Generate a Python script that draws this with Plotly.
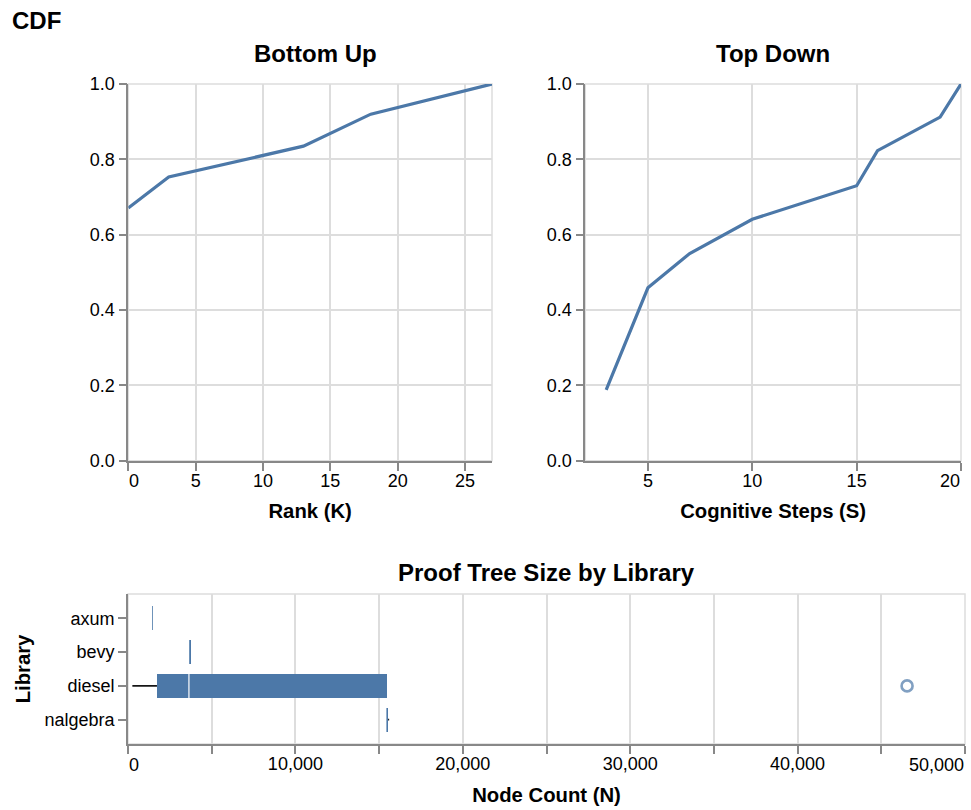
import plotly.graph_objects as go

W, H = 971, 810

# ---- data ----
rank_k = [0, 3, 13, 18, 27]
cdf_bottom_up = [0.671, 0.753, 0.835, 0.920, 1.0]

steps_s = [3, 5, 7, 10, 15, 16, 19, 20]
cdf_top_down = [0.188, 0.459, 0.550, 0.641, 0.730, 0.823, 0.912, 1.0]

libraries = ["axum", "bevy", "diesel", "nalgebra"]
lower_fence = [1385, 3600, 260, 15400]
q1 = [1385, 3620, 1730, 15400]
median = [1410, 3620, 3640, 15400]
q3 = [1445, 3760, 15470, 15540]
upper_fence = [1445, 3760, 15470, 15600]
outlier_lib = ["diesel"]
outlier_val = [46540]

x_ticks_rank = [5, 10, 15, 20, 25]
x_ticks_steps = [5, 10, 15]
x_ticks_nodes = [10000, 20000, 30000, 40000]

BLUE = "#4c78a8"
FONT = "Liberation Sans, Arial, Helvetica, sans-serif"


def xd(a, b):
    return [a / W, b / W]


def yd(top, bottom):
    return [1 - bottom / H, 1 - top / H]


fig = go.Figure()

fig.add_trace(go.Scatter(x=rank_k, y=cdf_bottom_up, mode="lines",
                         line=dict(color=BLUE, width=3.2),
                         xaxis="x", yaxis="y", showlegend=False))
fig.add_trace(go.Scatter(x=steps_s, y=cdf_top_down, mode="lines",
                         line=dict(color=BLUE, width=3.2),
                         xaxis="x2", yaxis="y2", showlegend=False))

# whiskers
wx, wy = [], []
for lib, lf, a, b, uf in zip(libraries, lower_fence, q1, q3, upper_fence):
    wx += [lf, a, None, b, uf, None]
    wy += [lib, lib, None, lib, lib, None]
fig.add_trace(go.Scatter(x=wx, y=wy, mode="lines",
                         line=dict(color="black", width=1.6),
                         xaxis="x3", yaxis="y3", showlegend=False))
# boxes
fig.add_trace(go.Bar(y=libraries, x=[b - a for a, b in zip(q1, q3)], base=q1,
                     orientation="h", width=0.71,
                     marker=dict(color=BLUE, line=dict(width=0)),
                     xaxis="x3", yaxis="y3", showlegend=False))
# medians
fig.add_trace(go.Scatter(x=median, y=libraries, mode="markers",
                         marker=dict(symbol="line-ns", size=27, color="white",
                                     line=dict(color="white", width=1.2)),
                         xaxis="x3", yaxis="y3", showlegend=False))
# outliers
fig.add_trace(go.Scatter(x=outlier_val, y=outlier_lib, mode="markers",
                         marker=dict(symbol="circle-open", size=11,
                                     color="rgba(76,120,168,0.7)",
                                     line=dict(color="rgba(76,120,168,0.7)", width=2.6)),
                         xaxis="x3", yaxis="y3", showlegend=False))

tick_font = dict(family=FONT, size=18, color="black")
title_font = dict(family=FONT, size=20.3, color="black")

common = dict(showgrid=True, gridcolor="#dddddd", gridwidth=1.5,
              showline=True, linecolor="#888888", linewidth=1.6,
              ticks="outside", ticklen=8, tickwidth=1.6, tickcolor="#888888",
              tickfont=tick_font, zeroline=False, fixedrange=True,
              automargin=False)

minor_common = dict(ticks="outside", ticklen=8, tickwidth=1.6, tickcolor="#888888",
                    showgrid=True, gridcolor="#dddddd", gridwidth=1.5, tick0=0)

fig.update_layout(
    width=W, height=H,
    margin=dict(l=0, r=0, t=0, b=0, pad=0),
    paper_bgcolor="white", plot_bgcolor="white",
    font=dict(family=FONT),
    bargap=0,
    xaxis=dict(domain=xd(128.3, 492), range=[0, 27], tickvals=x_ticks_rank,
               anchor="y", ticklabelstandoff=-5,
               minor=dict(dtick=5, **minor_common),
               title=dict(text="<b>Rank (K)</b>", font=title_font, standoff=14),
               **common),
    yaxis=dict(domain=yd(84, 460.7), range=[0, 1], dtick=0.2, tickformat=".1f",
               anchor="x", **common),
    xaxis2=dict(domain=xd(585.3, 961), range=[2, 20], tickvals=x_ticks_steps,
                anchor="y2", ticklabelstandoff=-5,
                minor=dict(dtick=5, **minor_common),
                title=dict(text="<b>Cognitive Steps (S)</b>", font=title_font, standoff=14),
                **common),
    yaxis2=dict(domain=yd(84, 460.7), range=[0, 1], dtick=0.2, tickformat=".1f",
                anchor="x2", **common),
    xaxis3=dict(domain=xd(128, 965), range=[0, 50000], tickvals=x_ticks_nodes,
                tickformat=",d", anchor="y3", ticklabelstandoff=-5,
                minor=dict(dtick=5000, **minor_common),
                title=dict(text="<b>Node Count (N)</b>", font=title_font, standoff=14),
                **common),
    yaxis3=dict(domain=yd(594, 744), type="category", categoryorder="array",
                categoryarray=libraries, autorange="reversed", anchor="x3",
                title=dict(text="<b>Library</b>", font=title_font, standoff=8),
                **{k: v for k, v in common.items() if k != "showgrid"},
                showgrid=False),
)

# first / last tick labels, flush with the edges of their axes
edge_labels = [
    ("x", 0, "0", "left", 481),
    ("x2", 20, "20", "right", 481),
    ("x3", 0, "0", "left", 765),
    ("x3", 50000, "50,000", "right", 765),
]
for xr, xv, txt, anchor, ypx in edge_labels:
    fig.add_annotation(text=txt, xref=xr, yref="paper", x=xv, y=1 - ypx / H,
                       xanchor=anchor, yanchor="middle", showarrow=False,
                       font=tick_font, xshift=(-1 if anchor == "left" else 1))

# view borders
for xr, yr in [("x", "y"), ("x2", "y2"), ("x3", "y3")]:
    fig.add_shape(type="rect", xref=xr + " domain", yref=yr + " domain",
                  x0=0, x1=1, y0=0, y1=1, layer="below",
                  line=dict(color="#dddddd", width=1.5))

ann_font = dict(family=FONT, size=24, color="black")
fig.add_annotation(text="<b>CDF</b>", xref="paper", yref="paper",
                   x=10 / W, y=1 - 20 / H, xanchor="left", yanchor="middle",
                   showarrow=False, font=ann_font)
fig.add_annotation(text="<b>Bottom Up</b>", xref="paper", yref="paper",
                   x=315 / W, y=1 - 53 / H, xanchor="center", yanchor="middle",
                   showarrow=False, font=ann_font)
fig.add_annotation(text="<b>Top Down</b>", xref="paper", yref="paper",
                   x=773 / W, y=1 - 53 / H, xanchor="center", yanchor="middle",
                   showarrow=False, font=ann_font)
fig.add_annotation(text="<b>Proof Tree Size by Library</b>", xref="paper", yref="paper",
                   x=546 / W, y=1 - 572 / H, xanchor="center", yanchor="middle",
                   showarrow=False, font=ann_font)

fig.write_html("out.html", config={"displayModeBar": False},
               post_script="document.body.style.margin='0';document.body.style.overflow='hidden';")
